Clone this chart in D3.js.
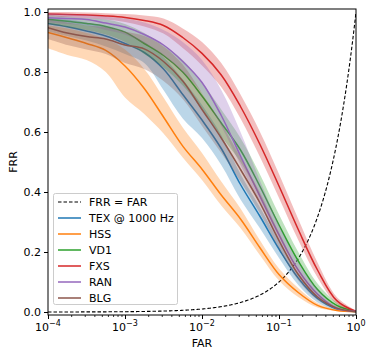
<!DOCTYPE html>
<html><head><meta charset="utf-8">
<script src="https://cdn.jsdelivr.net/npm/d3@7"></script>
<style>
html,body{margin:0;padding:0;background:#fff;}
svg{display:block;font-family:"DejaVu Sans",sans-serif;}
</style></head>
<body><svg id="c" width="374" height="358"></svg>
<script>
// log10(FAR) grid
const farExp = [-4,-3.75,-3.5,-3.25,-3,-2.75,-2.5,-2.25,-2,-1.75,-1.5,-1.25,-1,-0.75,-0.5,-0.25,0];
const xTickExps = [-4,-3,-2,-1,0];
const yTicks = [0.0,0.2,0.4,0.6,0.8,1.0];
const seriesNames = ["TEX @ 1000 Hz","HSS","VD1","FXS","RAN","BLG"];
const seriesColors = ["#1f77b4","#ff7f0e","#2ca02c","#d62728","#9467bd","#8c564b"];

const texMean = [0.962,0.951,0.937,0.92,0.895,0.865,0.81,0.725,0.64,0.545,0.425,0.32,0.21,0.113,0.045,0.01,0.001];
const texLo   = [0.935,0.92,0.905,0.885,0.86,0.83,0.74,0.645,0.58,0.49,0.375,0.28,0.18,0.09,0.032,0.006,0.0];
const texHi   = [0.98,0.975,0.965,0.95,0.93,0.90,0.85,0.775,0.69,0.59,0.46,0.35,0.235,0.13,0.056,0.014,0.002];

const hssMean = [0.932,0.914,0.895,0.872,0.82,0.745,0.65,0.553,0.476,0.39,0.31,0.215,0.125,0.065,0.022,0.005,0.001];
const hssLo   = [0.879,0.857,0.84,0.80,0.715,0.66,0.595,0.515,0.44,0.355,0.28,0.19,0.105,0.05,0.015,0.003,0.0];
const hssHi   = [0.955,0.945,0.93,0.91,0.875,0.81,0.715,0.615,0.53,0.435,0.345,0.24,0.145,0.08,0.03,0.008,0.002];

const vd1Mean = [0.976,0.969,0.962,0.952,0.933,0.895,0.855,0.80,0.72,0.63,0.54,0.42,0.29,0.17,0.075,0.022,0.002];
const vd1Lo   = [0.96,0.95,0.94,0.925,0.9,0.86,0.815,0.755,0.675,0.585,0.5,0.385,0.26,0.145,0.06,0.015,0.0];
const vd1Hi   = [0.99,0.985,0.98,0.975,0.96,0.93,0.89,0.84,0.765,0.675,0.58,0.46,0.325,0.2,0.095,0.032,0.004];

const fxsMean = [0.993,0.992,0.99,0.987,0.982,0.972,0.955,0.915,0.862,0.79,0.685,0.56,0.42,0.275,0.14,0.038,0.002];
const fxsLo   = [0.985,0.983,0.98,0.975,0.967,0.952,0.928,0.88,0.822,0.75,0.645,0.518,0.38,0.24,0.115,0.027,0.0];
const fxsHi   = [1.0,1.0,0.998,0.996,0.993,0.988,0.978,0.945,0.9,0.83,0.725,0.602,0.46,0.31,0.165,0.05,0.005];

const ranMean = [0.981,0.978,0.975,0.963,0.95,0.925,0.89,0.835,0.765,0.655,0.52,0.387,0.257,0.14,0.06,0.012,0.002];
const ranLo   = [0.965,0.96,0.955,0.94,0.925,0.895,0.855,0.80,0.73,0.62,0.49,0.36,0.235,0.125,0.05,0.008,0.0];
const ranHi   = [0.995,0.993,0.99,0.985,0.978,0.965,0.94,0.9,0.84,0.74,0.6,0.44,0.29,0.165,0.075,0.018,0.003];

const blgMean = [0.948,0.93,0.918,0.91,0.89,0.877,0.835,0.77,0.675,0.58,0.475,0.365,0.238,0.125,0.05,0.013,0.001];
const blgLo   = [0.91,0.89,0.875,0.86,0.83,0.81,0.77,0.71,0.62,0.53,0.435,0.33,0.21,0.105,0.04,0.009,0.0];
const blgHi   = [0.975,0.965,0.955,0.95,0.935,0.92,0.885,0.825,0.73,0.63,0.515,0.4,0.265,0.145,0.062,0.018,0.003];

const means = [texMean,hssMean,vd1Mean,fxsMean,ranMean,blgMean];
const lows  = [texLo,hssLo,vd1Lo,fxsLo,ranLo,blgLo];
const highs = [texHi,hssHi,vd1Hi,fxsHi,ranHi,blgHi];

const svg = d3.select("#c");
const L=48, R=356, T=9, B=315;
const x = d3.scaleLog().domain([1e-4,1]).range([L,R]);
const y = d3.scaleLinear().domain([-0.01,1.01]).range([B,T]);

svg.append("defs").append("clipPath").attr("id","clip")
  .append("rect").attr("x",L).attr("y",T).attr("width",R-L).attr("height",B-T);
const plot = svg.append("g").attr("clip-path","url(#clip)");

// reference line FRR = FAR
const refFar = d3.range(0,401).map(i=>Math.pow(10,-4+i/100));
plot.append("path")
  .attr("d", d3.line().x(d=>x(d)).y(d=>y(d))(refFar))
  .attr("fill","none").attr("stroke","#000").attr("stroke-width",1.1)
  .attr("stroke-dasharray","3.5,2");

const far = farExp.map(e=>Math.pow(10,e));
const curve = d3.curveCatmullRom.alpha(0.5);
const area = d3.area().curve(curve)
  .x((d,i)=>x(far[i])).y0(d=>y(d[0])).y1(d=>y(d[1]));
const line = d3.line().curve(curve)
  .x((d,i)=>x(far[i])).y(d=>y(d));

seriesNames.forEach((n,s)=>{
  const band = lows[s].map((v,i)=>[v,highs[s][i]]);
  plot.append("path").attr("d",area(band))
    .attr("fill",seriesColors[s]).attr("fill-opacity",0.3).attr("stroke","none");
  plot.append("path").attr("d",line(means[s]))
    .attr("fill","none").attr("stroke",seriesColors[s]).attr("stroke-width",1.5);
});

// frame
svg.append("rect").attr("x",L).attr("y",T).attr("width",R-L).attr("height",B-T)
  .attr("fill","none").attr("stroke","#000").attr("stroke-width",1);

// y axis
const yAxis = d3.axisLeft(y).tickValues(yTicks).tickFormat(d3.format(".1f")).tickSize(4).tickPadding(3);
const gy = svg.append("g").attr("transform",`translate(${L},0)`).call(yAxis);
gy.select(".domain").remove();
gy.selectAll("text").attr("font-size",11).attr("font-family","DejaVu Sans").attr("fill","#000");
gy.selectAll("line").attr("stroke","#000");

// x axis major
const xAxis = d3.axisBottom(x).tickValues(xTickExps.map(e=>Math.pow(10,e))).tickFormat("").tickSize(4);
const gx = svg.append("g").attr("transform",`translate(0,${B})`).call(xAxis);
gx.select(".domain").remove();
gx.selectAll("line").attr("stroke","#000");
// minor ticks
const minors=[];
xTickExps.slice(0,-1).forEach(e=>{for(let k=2;k<10;k++) minors.push(k*Math.pow(10,e));});
const gxm = svg.append("g").attr("transform",`translate(0,${B})`)
  .call(d3.axisBottom(x).tickValues(minors).tickFormat("").tickSize(2));
gxm.select(".domain").remove();
gxm.selectAll("line").attr("stroke","#000").attr("stroke-width",0.8);

// x tick labels 10^e
xTickExps.forEach(e=>{
  const t = svg.append("text").attr("x",x(Math.pow(10,e))).attr("y",B+16)
    .attr("text-anchor","middle").attr("font-size",11).attr("fill","#000");
  t.append("tspan").text("10");
  t.append("tspan").attr("font-size",8).attr("dy",-5).text(e===0?"0":"\u2212"+(-e));
});

// axis labels
svg.append("text").attr("x",(L+R)/2).attr("y",347).attr("text-anchor","middle")
  .attr("font-size",11).text("FAR");
svg.append("text").attr("transform",`translate(17,${(T+B)/2}) rotate(-90)`)
  .attr("text-anchor","middle").attr("font-size",11).text("FRR");

// legend
const lg = svg.append("g");
lg.append("rect").attr("x",53.5).attr("y",193.5).attr("width",124).attr("height",111).attr("rx",2)
  .attr("fill","#fff").attr("fill-opacity",0.8).attr("stroke","#ccc").attr("stroke-width",1);
const legendItems = [{name:"FRR = FAR",color:"#000",dash:"3.5,2"}]
  .concat(seriesNames.map((n,i)=>({name:n,color:seriesColors[i],dash:null})));
legendItems.forEach((it,i)=>{
  const cy = 202 + i*16;
  const ln = lg.append("line").attr("x1",58).attr("x2",81).attr("y1",cy).attr("y2",cy)
    .attr("stroke",it.color).attr("stroke-width",it.dash?1.1:1.5);
  if(it.dash) ln.attr("stroke-dasharray",it.dash);
  lg.append("text").attr("x",89).attr("y",cy+4).attr("font-size",11).attr("fill","#000").text(it.name);
});
</script></body></html>
